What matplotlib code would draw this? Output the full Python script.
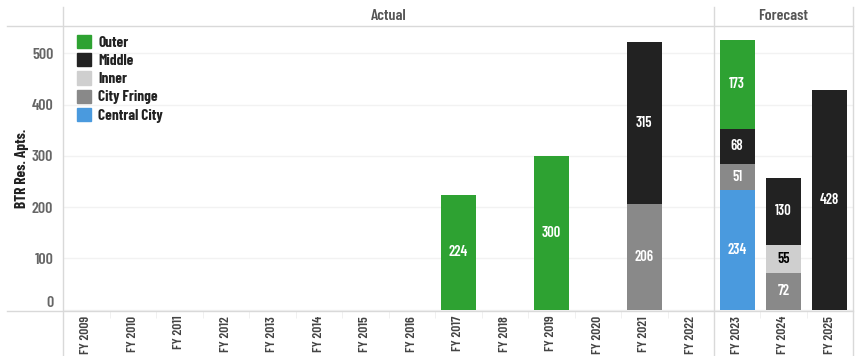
import matplotlib.pyplot as plt
import matplotlib.lines as mlines
import matplotlib.patches as mpatches
import numpy as np

years_actual = ['FY 2009', 'FY 2010', 'FY 2011', 'FY 2012', 'FY 2013', 'FY 2014', 'FY 2015',
                'FY 2016', 'FY 2017', 'FY 2018', 'FY 2019', 'FY 2020', 'FY 2021', 'FY 2022']
years_forecast = ['FY 2023', 'FY 2024', 'FY 2025']

# stacked bottom to top
segments = ['Central City', 'City Fringe', 'Inner', 'Middle', 'Outer']
colors = {'Central City': '#4a9ade', 'City Fringe': '#898989', 'Inner': '#cfcfcf',
          'Middle': '#222222', 'Outer': '#2ea232'}
text_colors = {'Central City': 'white', 'City Fringe': 'white', 'Inner': 'black',
               'Middle': 'white', 'Outer': 'white'}

actual_central = [0, 0, 0, 0, 0, 0, 0, 0, 0, 0, 0, 0, 0, 0]
actual_fringe = [0, 0, 0, 0, 0, 0, 0, 0, 0, 0, 0, 0, 206, 0]
actual_inner = [0, 0, 0, 0, 0, 0, 0, 0, 0, 0, 0, 0, 0, 0]
actual_middle = [0, 0, 0, 0, 0, 0, 0, 0, 0, 0, 0, 0, 315, 0]
actual_outer = [0, 0, 0, 0, 0, 0, 0, 0, 224, 0, 300, 0, 0, 0]

forecast_central = [234, 0, 0]
forecast_fringe = [51, 72, 0]
forecast_inner = [0, 55, 0]
forecast_middle = [68, 130, 428]
forecast_outer = [173, 0, 0]

actual = {'Central City': actual_central, 'City Fringe': actual_fringe, 'Inner': actual_inner,
          'Middle': actual_middle, 'Outer': actual_outer}
forecast = {'Central City': forecast_central, 'City Fringe': forecast_fringe,
            'Inner': forecast_inner, 'Middle': forecast_middle, 'Outer': forecast_outer}

plt.rcParams['font.family'] = ['Barlow Condensed', 'DejaVu Sans']
plt.rcParams['font.weight'] = 600

W, H = 859, 356
fig = plt.figure(figsize=(W / 100, H / 100), dpi=100)
top, bottom = 26, 311
left, split, right = 63, 714, 853
line_col = '#d9d9d9'


def draw_panel(ax, labels, data):
    x = np.arange(len(labels))
    base = np.zeros(len(labels))
    for seg in segments:
        vals = np.array(data[seg], dtype=float)
        ax.bar(x, vals, 0.75, bottom=base, color=colors[seg], zorder=3)
        for xi, b, v in zip(x, base, vals):
            if v > 0:
                ax.text(xi, b + v / 2, '{:d}'.format(int(v)), ha='center', va='center',
                        color=text_colors[seg], fontsize=10.5, zorder=4)
        base += vals
    ax.set_xlim(-0.5, len(labels) - 0.5)
    ax.set_ylim(-2.3, 553)
    ax.set_xticks(x)
    ax.set_xticklabels(labels, rotation=90, fontsize=9.8, color='#444444')
    ax.set_xticks(np.arange(len(labels) + 1) - 0.5, minor=True)
    ax.tick_params(axis='x', which='major', length=0, pad=3.5)
    ax.tick_params(axis='x', which='minor', length=5, color='#eeeeee')
    ax.set_yticks([0, 100, 200, 300, 400, 500])
    ax.grid(axis='y', color='#f2f2f2', linewidth=1, zorder=0)
    for s in ax.spines.values():
        s.set_visible(False)


ax1 = fig.add_axes([left / W, (H - bottom) / H, (split - left) / W, (bottom - top) / H])
ax2 = fig.add_axes([split / W, (H - bottom) / H, (right - split) / W, (bottom - top) / H])
draw_panel(ax1, years_actual, actual)
draw_panel(ax2, years_forecast, forecast)
ax1.set_yticklabels(['0', '100', '200', '300', '400', '500'], fontsize=11.5, color='#666666')
ax1.get_yticklabels()[0].set_va('bottom')
ax1.tick_params(axis='y', length=0, pad=7)
ax2.tick_params(axis='y', length=0, labelleft=False)
ax1.set_ylabel('BTR Res. Apts.', fontsize=11, color='#222222', fontweight=700)
ax1.yaxis.set_label_coords(-(left - 29) / (split - left), 0.5)

# frame lines around the panels and header band
for y in (top, bottom):
    fig.add_artist(mlines.Line2D([7 / W, right / W], [(H - y) / H] * 2, color=line_col, lw=1))
for xv in (left, split, right):
    fig.add_artist(mlines.Line2D([xv / W] * 2, [0, (H - 7) / H], color=line_col, lw=1))

fig.text((left + split) / 2 / W, (H - 16) / H, 'Actual', ha='center', va='center',
         fontsize=11.5, color='#555555')
fig.text((split + right) / 2 / W, (H - 16) / H, 'Forecast', ha='center', va='center',
         fontsize=11.5, color='#555555')

handles = [mpatches.Patch(color=colors[s], label=s) for s in segments[::-1]]
ax1.legend(handles=handles, loc='upper left', bbox_to_anchor=(0.012, 0.99), frameon=False,
           handlelength=0.95, handleheight=0.95, handletextpad=0.45,
           labelspacing=0.22, borderaxespad=0.0, labelcolor='#222222',
           prop={'weight': 700, 'size': 11})

fig.savefig('out.png', dpi=100)
